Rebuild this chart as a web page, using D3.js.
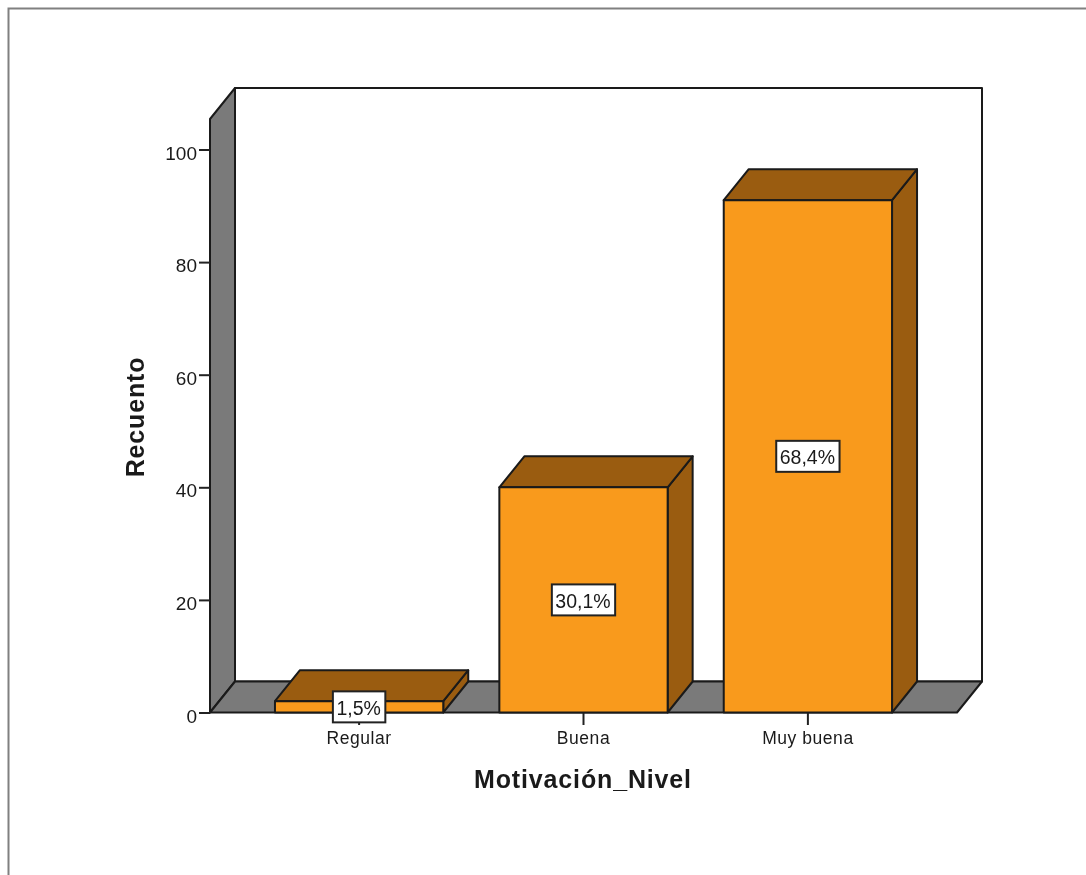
<!DOCTYPE html>
<html>
<head>
<meta charset="utf-8">
<script src="https://cdn.jsdelivr.net/npm/d3@7"></script>
<style>
    html, body { margin: 0; padding: 0; background: #fff; overflow: hidden; }
    svg { filter: blur(0.45px); }
    text { font-family: "Liberation Sans", Arial, sans-serif; fill: #1a1a1a; }
</style>
</head>
<body>
<script>
const categories = ["Regular", "Buena", "Muy buena"];
const counts = [2, 40, 91];
const percentLabels = ["1,5%", "30,1%", "68,4%"];
const yTicks = [0, 20, 40, 60, 80, 100];

const width = 1086, height = 875;

// Profondeur de l'effet 3D
const depthX = 25, depthY = 31;

const svg = d3.select("body").append("svg")
    .attr("width", width)
    .attr("height", height)
    .style("display", "block");

// Cadre gris
svg.append("path")
    .attr("d", "M8.5,875V8.5H1086")
    .attr("fill", "none")
    .attr("stroke", "#808080")
    .attr("stroke-width", 2);

const x = d3.scaleBand()
    .domain(categories)
    .range([210, 957])
    .paddingInner(0.25)
    .paddingOuter(0.2895);

const y = d3.scaleLinear()
    .domain([0, 100])
    .range([712.5, 149.5]);

const yMax = y.invert(119);
const line = d3.line();
const outline = { stroke: "#1a1a1a", "stroke-width": 2, "stroke-linejoin": "round" };

function face(points, fill) {
    const p = svg.append("path").attr("d", line(points) + "Z").attr("fill", fill);
    Object.entries(outline).forEach(([k, v]) => p.attr(k, v));
    return p;
}

const x0 = x.range()[0], x1 = x.range()[1];
const yB = y(0), yT = y(yMax);

// Fond, mur gauche et sol
face([[x0 + depthX, yB - depthY], [x1 + depthX, yB - depthY], [x1 + depthX, yT - depthY], [x0 + depthX, yT - depthY]], "#fff");
face([[x0, yB], [x0 + depthX, yB - depthY], [x0 + depthX, yT - depthY], [x0, yT]], "#7a7a7a");
face([[x0, yB], [x1, yB], [x1 + depthX, yB - depthY], [x0 + depthX, yB - depthY]], "#7a7a7a");

// Axe Y
const yAxis = svg.append("g")
    .attr("transform", `translate(${x0},0)`)
    .call(d3.axisLeft(y).tickValues(yTicks).tickSize(11).tickPadding(2).tickFormat(d3.format("d")));
yAxis.select(".domain").remove();
yAxis.selectAll("line").attr("stroke", "#222").attr("stroke-width", 2);
yAxis.selectAll("text")
    .attr("font-size", 19)
    .attr("dy", "0.5em")
    .style("font-family", '"Liberation Sans"');

// Axe X
const xAxis = svg.append("g")
    .attr("transform", `translate(0,${yB})`)
    .call(d3.axisBottom(x).tickSize(12.5).tickPadding(7));
xAxis.select(".domain").remove();
xAxis.selectAll("line").attr("stroke", "#222").attr("stroke-width", 2);
xAxis.selectAll("text")
    .attr("font-size", 17.5)
    .attr("letter-spacing", 0.55)
    .style("font-family", '"Liberation Sans"');

// Barres
categories.forEach((c, i) => {
    const l = x(c), r = l + x.bandwidth(), t = y(counts[i]);
    face([[r, yB], [r + depthX, yB - depthY], [r + depthX, t - depthY], [r, t]], "#9a5c10");
    face([[l, t], [r, t], [r + depthX, t - depthY], [l + depthX, t - depthY]], "#9a5c10");
    face([[l, yB], [r, yB], [r, t], [l, t]], "#f99a1c");
});

// Etiquettes de pourcentage
categories.forEach((c, i) => {
    const cx = x(c) + x.bandwidth() / 2;
    const cy = (y(counts[i]) + yB) / 2;
    const g = svg.append("g");
    const txt = g.append("text")
        .attr("x", cx - 0.5)
        .attr("y", cy + 1)
        .attr("dy", "0.36em")
        .attr("text-anchor", "middle")
        .attr("font-size", 19.5)
        .text(percentLabels[i]);
    const b = txt.node().getBBox();
    g.insert("rect", "text")
        .attr("x", cx - b.width / 2 - 4)
        .attr("y", cy - 15.5)
        .attr("width", b.width + 8)
        .attr("height", 31)
        .attr("fill", "#fff")
        .attr("stroke", "#222")
        .attr("stroke-width", 2);
});

// Titres des axes
svg.append("text")
    .attr("x", 583)
    .attr("y", 788)
    .attr("text-anchor", "middle")
    .attr("font-size", 25)
    .attr("letter-spacing", 0.85)
    .attr("font-weight", "bold")
    .text("Motivación_Nivel");

svg.append("text")
    .attr("transform", "translate(144,417) rotate(-90)")
    .attr("text-anchor", "middle")
    .attr("font-size", 25)
    .attr("letter-spacing", 0.85)
    .attr("font-weight", "bold")
    .text("Recuento");
</script>
</body>
</html>
